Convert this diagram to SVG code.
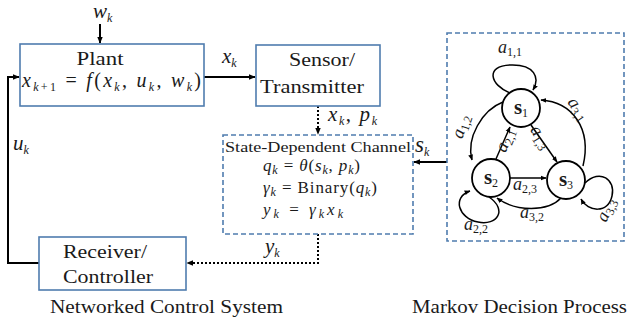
<svg xmlns="http://www.w3.org/2000/svg" width="629" height="321" viewBox="0 0 629 321" font-family="Liberation Serif">
<defs>
<style>
.box{fill:none;stroke:#4f7cae;stroke-width:1.6}
.dbox{fill:none;stroke:#4f7cae;stroke-width:1.6;stroke-dasharray:5 3}
</style>
<marker id="ah" viewBox="0 0 10 10" refX="9" refY="5" markerWidth="7" markerHeight="7" markerUnits="userSpaceOnUse" orient="auto"><path d="M0,1 L10,5 L0,9 z" fill="#000"/></marker>
<marker id="ah2" viewBox="0 0 10 10" refX="9" refY="5" markerWidth="6" markerHeight="6" markerUnits="userSpaceOnUse" orient="auto"><path d="M0,1 L10,5 L0,9 z" fill="#000"/></marker>
</defs>

<g id="connectors" fill="none" stroke="#000" stroke-width="2">
<path d="M100,24 V43" marker-end="url(#ah)"/>
<path d="M39,263 H8 V77 H19" marker-end="url(#ah)"/>
<path d="M204,77 H255" marker-end="url(#ah)"/>
<path d="M318,106 V134" stroke-dasharray="2 2" marker-end="url(#ah)"/>
<path d="M447,162 H414" marker-end="url(#ah)"/>
<path d="M318,234 V263 H187" stroke-dasharray="2 2" marker-end="url(#ah)"/>
</g>
<g id="connector-labels" font-family="Liberation Serif" fill="#1a1a1a" font-size="21" font-style="italic">
<text x="93" y="18">w<tspan font-size="12" dy="4">k</tspan></text>
<text x="222" y="63">x<tspan font-size="12" dy="4">k</tspan></text>
<text x="13" y="150">u<tspan font-size="12" dy="4">k</tspan></text>
<text x="328" y="121" textLength="49">x<tspan font-size="12" dy="4">k</tspan><tspan font-style="normal" dy="-4">, </tspan>p<tspan font-size="12" dy="4">k</tspan></text>
<text x="415" y="152" font-size="23">s<tspan font-size="12" dy="4">k</tspan></text>
<text x="265" y="253">y<tspan font-size="12" dy="4">k</tspan></text>
</g>

<g id="plant" font-family="Liberation Serif" fill="#1a1a1a">
<rect class="box" x="20" y="44" width="184" height="62"/>
<text x="100" y="65" font-size="19" text-anchor="middle" textLength="47" lengthAdjust="spacingAndGlyphs">Plant</text>
<text x="22" y="87" font-size="20" textLength="179"><tspan font-style="italic">x</tspan><tspan font-style="italic" font-size="12" dy="4">k</tspan><tspan font-size="12">+1</tspan><tspan dy="-4"> = </tspan><tspan font-style="italic">f</tspan>(<tspan font-style="italic">x</tspan><tspan font-style="italic" font-size="12" dy="4">k</tspan><tspan dy="-4">, </tspan><tspan font-style="italic">u</tspan><tspan font-style="italic" font-size="12" dy="4">k</tspan><tspan dy="-4">, </tspan><tspan font-style="italic">w</tspan><tspan font-style="italic" font-size="12" dy="4">k</tspan><tspan dy="-4">)</tspan></text>
</g>

<g id="sensor" font-family="Liberation Serif" fill="#1a1a1a">
<rect class="box" x="256" y="45" width="124" height="61"/>
<text x="289" y="66" font-size="19" textLength="66" lengthAdjust="spacingAndGlyphs">Sensor/</text>
<text x="260" y="93" font-size="19" textLength="104" lengthAdjust="spacingAndGlyphs">Transmitter</text>
</g>

<g id="channel" font-family="Liberation Serif" fill="#1a1a1a">
<rect class="dbox" x="223" y="135" width="190" height="99"/>
<text x="225" y="151.5" font-size="15.5" textLength="186" lengthAdjust="spacingAndGlyphs">State-Dependent Channel</text>
<text x="263" y="171" font-size="17" textLength="97"><tspan font-style="italic">q</tspan><tspan font-style="italic" font-size="12" dy="3">k</tspan><tspan dy="-3"> = </tspan><tspan font-style="italic">&#952;</tspan>(<tspan font-style="italic">s</tspan><tspan font-style="italic" font-size="12" dy="3">k</tspan><tspan dy="-3">, </tspan><tspan font-style="italic">p</tspan><tspan font-style="italic" font-size="12" dy="3">k</tspan><tspan dy="-3">)</tspan></text>
<text x="263" y="193" font-size="17" textLength="114"><tspan font-style="italic">&#947;</tspan><tspan font-style="italic" font-size="12" dy="3">k</tspan><tspan dy="-3"> = Binary(</tspan><tspan font-style="italic">q</tspan><tspan font-style="italic" font-size="12" dy="3">k</tspan><tspan dy="-3">)</tspan></text>
<text x="263" y="215" font-size="17" textLength="80"><tspan font-style="italic">y</tspan><tspan font-style="italic" font-size="12" dy="3">k</tspan><tspan dy="-3"> = </tspan><tspan font-style="italic">&#947;</tspan><tspan font-style="italic" font-size="12" dy="3">k</tspan><tspan font-style="italic" dy="-3">x</tspan><tspan font-style="italic" font-size="12" dy="3">k</tspan></text>
</g>

<g id="receiver" font-family="Liberation Serif" fill="#1a1a1a">
<rect class="box" x="39" y="237" width="147" height="53"/>
<text x="63" y="258" font-size="19" textLength="84" lengthAdjust="spacingAndGlyphs">Receiver/</text>
<text x="63" y="283" font-size="19" textLength="90" lengthAdjust="spacingAndGlyphs">Controller</text>
</g>

<g id="titles" font-family="Liberation Serif" fill="#1a1a1a" font-size="19">
<text x="50" y="313" textLength="233" lengthAdjust="spacingAndGlyphs">Networked Control System</text>
<text x="412" y="313" textLength="215" lengthAdjust="spacingAndGlyphs">Markov Decision Process</text>
</g>

<g id="mdp">
<rect class="dbox" x="447" y="33" width="177" height="208"/>
<g id="mdp-edges" fill="none" stroke="#000" stroke-width="1.5">
<path d="M510,93 C490,85 485,66 510,65 C535,64 540,78 533,90" marker-end="url(#ah2)"/>
<path d="M503,102 C482,110 466,138 472,160" marker-end="url(#ah2)"/>
<path d="M496,159 L510,127" marker-end="url(#ah2)"/>
<path d="M531,125 L557,162" marker-end="url(#ah2)"/>
<path d="M583,166 C592,128 572,102 541,100" marker-end="url(#ah2)"/>
<path d="M510,178 H546" marker-end="url(#ah2)"/>
<path d="M561,198 C548,212 516,212 497,198" marker-end="url(#ah2)"/>
<path d="M489,197 C508,210 497,226 478,222 C458,218 452,197 470,191" marker-end="url(#ah2)"/>
<path d="M585,183 C600,168 616,180 612,196 C608,214 588,212 581,199" marker-end="url(#ah2)"/>
</g>
<g id="s1"><circle cx="521" cy="108" r="19" fill="#fff" stroke="#000" stroke-width="1.8"/><text font-family="Liberation Serif" fill="#1a1a1a" x="521" y="114" font-size="21" text-anchor="middle"><tspan font-weight="bold">s</tspan><tspan font-size="12" dy="3">1</tspan></text></g>
<g id="s2"><circle cx="491" cy="178" r="19" fill="#fff" stroke="#000" stroke-width="1.8"/><text font-family="Liberation Serif" fill="#1a1a1a" x="491" y="184" font-size="21" text-anchor="middle"><tspan font-weight="bold">s</tspan><tspan font-size="12" dy="3">2</tspan></text></g>
<g id="s3"><circle cx="566" cy="180" r="19" fill="#fff" stroke="#000" stroke-width="1.8"/><text font-family="Liberation Serif" fill="#1a1a1a" x="566" y="186" font-size="21" text-anchor="middle"><tspan font-weight="bold">s</tspan><tspan font-size="12" dy="3">3</tspan></text></g>
<g id="mdp-labels" font-family="Liberation Serif" fill="#1a1a1a" font-size="18">
<text x="498" y="53"><tspan font-style="italic">a</tspan><tspan font-size="12" dy="3">1,1</tspan></text>
<text transform="translate(466,128) rotate(-72)" text-anchor="middle"><tspan font-style="italic">a</tspan><tspan font-size="12" dy="3">1,2</tspan></text>
<text transform="translate(510,142) rotate(-68)" text-anchor="middle"><tspan font-style="italic">a</tspan><tspan font-size="12" dy="3">2,1</tspan></text>
<text transform="translate(536,140) rotate(58)" text-anchor="middle"><tspan font-style="italic">a</tspan><tspan font-size="12" dy="3">1,3</tspan></text>
<text transform="translate(574,112) rotate(55)" text-anchor="middle"><tspan font-style="italic">a</tspan><tspan font-size="12" dy="3">3,1</tspan></text>
<text x="513" y="190"><tspan font-style="italic">a</tspan><tspan font-size="12" dy="3">2,3</tspan></text>
<text x="520" y="218"><tspan font-style="italic">a</tspan><tspan font-size="12" dy="3">3,2</tspan></text>
<text x="464" y="230"><tspan font-style="italic">a</tspan><tspan font-size="12" dy="3">2,2</tspan></text>
<text transform="translate(611,212) rotate(-65)" text-anchor="middle"><tspan font-style="italic">a</tspan><tspan font-size="12" dy="3">3,3</tspan></text>
</g>
</g>
</svg>
